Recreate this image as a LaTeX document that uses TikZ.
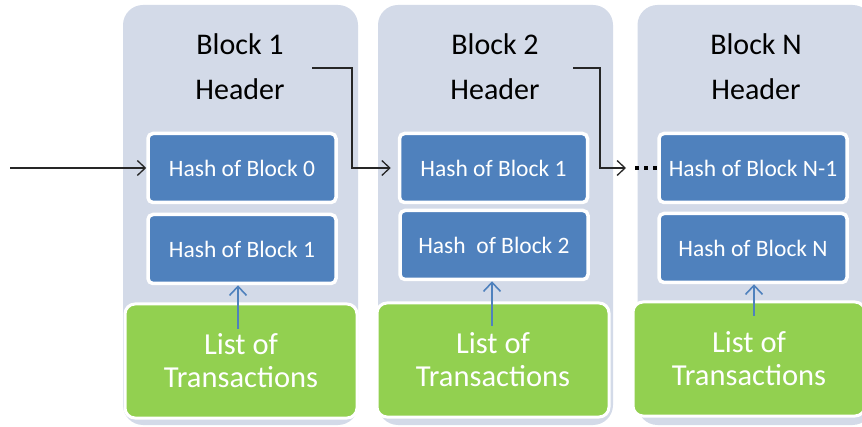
\documentclass[tikz,border=0pt]{standalone}
\usepackage{fontspec}
\setmainfont{Carlito}
\usetikzlibrary{arrows.meta}
\definecolor{blockgray}{HTML}{D3DAE8}
\definecolor{hashblue}{HTML}{4F81BD}
\definecolor{txgreen}{HTML}{92D050}

\begin{document}
\begin{tikzpicture}%
            [x = 1pt, y = -1pt,
             blockbg/.style = {fill=blockgray, rounded corners=20pt, minimum width=235pt, minimum height=420pt, inner sep=0pt},
             hashbox/.style = {fill=hashblue, draw=white, line width=3.5pt, rounded corners=5pt, minimum width=188pt, minimum height=69pt, text=white, font=\fontsize{23.5}{26}\selectfont},
             txbox/.style = {fill=txgreen, draw=white, line width=3pt, rounded corners=10pt, minimum width=232pt, minimum height=114pt, text=white, align=center, font=\fontsize{30.5}{33}\selectfont},
             title/.style = {anchor=base, font=\fontsize{30}{36}\selectfont},
             link/.style = {-{Straight Barb[length=8pt,width=15pt]}, line width=1.3pt, black!85},
             uplink/.style = {-{Straight Barb[length=9pt,width=17pt]}, line width=1.6pt, hashblue}]
            \useasboundingbox (0,0) rectangle (862,427);

            % block backgrounds
            \node [blockbg] (blkA) at (240.5,215) {};
            \node [blockbg] (blkB) at (495.5,215) {};
            \node [blockbg] (blkN) at (755,215) {};

            \node [title] (titA) at (240,55) {Block 1};
            \node [title] (hdrA) at (240,100) {Header};
            \node [title] (titB) at (495,55) {Block 2};
            \node [title] (hdrB) at (495,100) {Header};
            \node [title] (titN) at (756,55) {Block N};
            \node [title] (hdrN) at (756,100) {Header};

            % transactions
            \node [txbox] (txA) at (241,361) {List of\\Transactions};
            \node [txbox] (txB) at (493,360) {List of\\Transactions};
            \node [txbox] (txN) at (749,359) {List of\\Transactions};

            % hashes
            \node [hashbox] (hashA0) at (242,168) {Hash of Block 0};
            \node [hashbox] (hashA1) at (242,249) {Hash of Block 1};
            \node [hashbox] (hashB1) at (493.5,168) {Hash of Block 1};
            \node [hashbox] (hashB2) at (494,245) {Hash\ \ of Block 2};
            \node [hashbox] (hashN1) at (753,168) {Hash of Block N-1};
            \node [hashbox] (hashN) at (753,248) {Hash of Block N};

            % links between blocks
            \coordinate (inA) at (10,168);
            \draw [link] (inA) -- (hashA0);

            \coordinate (outA) at (312,68);
            \draw [link, shorten >=7pt] (outA) -- ++(40,0) |- (hashB1.west);

            \coordinate (outB) at (573,68);
            \coordinate (dotsB) at (626,168);
            \draw [link] (outB) -- ++(27,0) |- (dotsB);
            \draw [line width=4pt, dash pattern=on 3.5pt off 5.5pt] ([xshift=9pt]dotsB) -- (hashN1.west);

            % transactions into hash
            \coordinate (srcA) at (238,329);
            \coordinate (srcB) at (492,326);
            \coordinate (srcN) at (754,316);
            \draw [uplink] (srcA) -- (srcA |- hashA1.south);
            \draw [uplink] (srcB) -- (srcB |- hashB2.south);
            \draw [uplink] (srcN) -- (srcN |- hashN.south);
        \end{tikzpicture}
\end{document}
